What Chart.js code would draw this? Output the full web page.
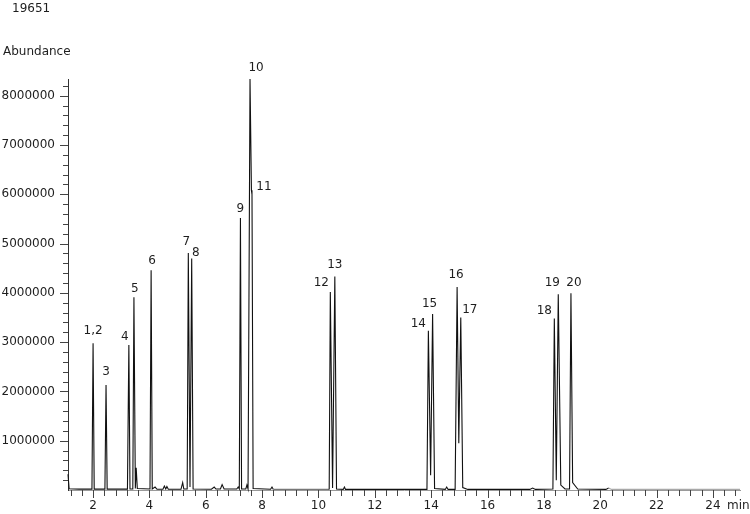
<!DOCTYPE html>
<html lang="en">
<head>
  <meta charset="UTF-8">
  <title>Chromatogram 19651</title>
  <script src="https://cdn.jsdelivr.net/npm/chart.js"></script>
  <style>
    body { margin: 0; background: #fff; }
    #wrap { width: 750px; height: 514px; position: relative; }
  </style>
</head>
<body>
  <div id="wrap"><canvas id="myChart"></canvas></div>

  <script>
    // trace: retention time (min) and abundance
    const times = [
      1.11, 1.15, 1.5, 1.96, 2.0, 2.04, 2.42, 2.46, 2.5, 3.22, 3.27, 3.31,
      3.41, 3.45, 3.5, 3.53, 3.57, 4.02, 4.06, 4.1, 4.2, 4.27, 4.48, 4.53,
      4.58, 4.62, 4.67, 5.12, 5.18, 5.22, 5.34, 5.38, 5.44, 5.5, 5.55, 6.2,
      6.3, 6.36, 6.52, 6.58, 6.65, 7.1, 7.15, 7.19, 7.23, 7.27, 7.42, 7.46,
      7.5, 7.57, 7.62, 7.64, 7.68, 8.3, 8.35, 8.4, 10.38, 10.42, 10.5, 10.58,
      10.64, 10.88, 10.92, 10.96, 13.85, 13.9, 13.98, 14.05, 14.12, 14.5, 14.55, 14.6,
      14.85, 14.92, 14.98, 15.05, 15.12, 15.3, 17.5, 17.6, 17.7, 18.32, 18.37, 18.44,
      18.51, 18.6, 18.75, 18.91, 18.96, 19.02, 19.2, 20.2, 20.3, 20.4, 24.96
    ];
    const abundance = [
      320000, 25000, 18000, 18000, 2980000, 18000, 18000, 2130000, 18000, 18000, 2940000, 20000,
      20000, 3910000, 30000, 450000, 30000, 20000, 4460000, 20000, 60000, 15000, 15000, 80000,
      20000, 70000, 15000, 15000, 150000, 20000, 20000, 4810000, 60000, 4700000, 20000, 15000,
      60000, 20000, 20000, 110000, 20000, 20000, 60000, 20000, 5520000, 20000, 20000, 100000,
      20000, 8340000, 6080000, 6000000, 30000, 15000, 60000, 12000, 12000, 4020000, 40000, 4330000,
      20000, 12000, 60000, 12000, 12000, 3230000, 300000, 3570000, 30000, 12000, 60000, 12000,
      12000, 4120000, 950000, 3500000, 50000, 12000, 12000, 40000, 12000, 20000, 3480000, 200000,
      3970000, 100000, 20000, 20000, 3990000, 150000, 20000, 12000, 40000, 12000, 12000
    ];

    // peak annotations
    const peakLabels = ['1,2', '3', '4', '5', '6', '7', '8', '9', '10', '11',
                        '12', '13', '14', '15', '16', '17', '18', '19', '20'];
    const peakTimes = [2.0, 2.46, 3.27, 3.45, 4.06, 5.38, 5.5, 7.23, 7.57, 7.64,
                       10.42, 10.58, 13.9, 14.05, 14.92, 15.05, 18.37, 18.51, 18.96];
    const peakHeights = [2980000, 2130000, 2940000, 3910000, 4460000, 4810000, 4700000, 5520000, 8340000, 6000000,
                         4020000, 4330000, 3230000, 3570000, 4120000, 3500000, 3480000, 3970000, 3990000];

    const xTickLabels = ['2', '4', '6', '8', '10', '12', '14', '16', '18', '20', '22', '24'];
    const yTickLabels = ['1000000', '2000000', '3000000', '4000000', '5000000', '6000000', '7000000', '8000000'];

    const textColor = '#1e1e1e';
    const textFont = '12px "DejaVu Sans"';

    // label nudges (px) relative to each peak top
    const labelOffsets = [
      [0, -12], [0, -13], [-4, -8], [1, -8], [1, -9], [-2, -11], [4, -6], [0, -9], [6, -11], [12, -7],
      [-9, -9], [0, -12], [-10, -7], [-3, -10], [-1, -12], [9, -8], [-10, -8], [-6, -11], [3, -10]
    ];

    const decorations = {
      id: 'decorations',
      afterDraw(chart) {
        const ctx = chart.ctx;
        const xs = chart.scales.x, ys = chart.scales.y;
        const area = chart.chartArea;
        ctx.save();
        ctx.strokeStyle = '#444';
        ctx.lineWidth = 1;
        // y axis ticks, minor every 200000
        for (let v = 200000; v <= ys.max; v += 200000) {
          const y = Math.round(ys.getPixelForValue(v)) + 0.5;
          const major = Math.round(v / 200000) % 5 === 0;
          ctx.beginPath();
          ctx.moveTo(area.left - (major ? 8 : 5), y);
          ctx.lineTo(area.left, y);
          ctx.stroke();
        }
        // x axis ticks, minor every 0.4 min
        for (let i = 3; i * 0.4 <= xs.max; i++) {
          const x = Math.round(xs.getPixelForValue(i * 0.4)) + 0.5;
          const major = i % 5 === 0;
          ctx.beginPath();
          ctx.moveTo(x, area.bottom);
          ctx.lineTo(x, area.bottom + (major ? 8 : 6));
          ctx.stroke();
        }
        ctx.fillStyle = textColor;
        ctx.font = textFont;
        ctx.textBaseline = 'middle';
        // tick labels
        ctx.textAlign = 'right';
        yTickLabels.forEach(lab => {
          ctx.fillText(lab, area.left - 13, ys.getPixelForValue(parseFloat(lab)));
        });
        ctx.textAlign = 'center';
        xTickLabels.forEach(lab => {
          ctx.fillText(lab, xs.getPixelForValue(parseFloat(lab)), area.bottom + 16);
        });
        // titles
        ctx.textAlign = 'left';
        ctx.fillText('19651', 12, 9);
        ctx.fillText('Abundance', 3, 52);
        ctx.fillText('min', 727, 506);
        // peak labels
        ctx.textAlign = 'center';
        peakLabels.forEach((lab, i) => {
          const x = xs.getPixelForValue(peakTimes[i]) + labelOffsets[i][0];
          const y = ys.getPixelForValue(peakHeights[i]) + labelOffsets[i][1];
          ctx.fillText(lab, x, y);
        });
        ctx.restore();
      }
    };

    const ctx = document.getElementById('myChart').getContext('2d');
    const myChart = new Chart(ctx, {
      type: 'line',
      data: {
        datasets: [{
          data: times.map((t, i) => ({ x: t, y: abundance[i] })),
          borderColor: '#111',
          borderWidth: 1.1,
          pointRadius: 0,
          tension: 0,
          clip: false,
          segment: {
            borderColor: c => {
              const t = c.p0.parsed.x;
              if (t >= 20.3) return '#a8a8a8';
              if (t >= 8.4 && t < 10.38) return '#777';
              return '#111';
            }
          }
        }]
      },
      plugins: [decorations],
      options: {
        responsive: true,
        maintainAspectRatio: false,
        animation: false,
        layout: { padding: { top: 79, right: 10, left: 0, bottom: 0 } },
        plugins: { legend: { display: false }, tooltip: { enabled: false } },
        scales: {
          x: {
            type: 'linear',
            min: 1.11,
            max: 24.96,
            afterFit: s => { s.height = 24; },
            border: { display: true, color: '#9a9a9a', width: 1 },
            grid: { display: false, drawTicks: false },
            ticks: { display: false }
          },
          y: {
            min: 0,
            max: 8340000,
            afterFit: s => { s.width = 68; },
            border: { display: true, color: '#333', width: 1 },
            grid: { display: false, drawTicks: false },
            ticks: { display: false }
          }
        }
      }
    });
  </script>
</body>
</html>
